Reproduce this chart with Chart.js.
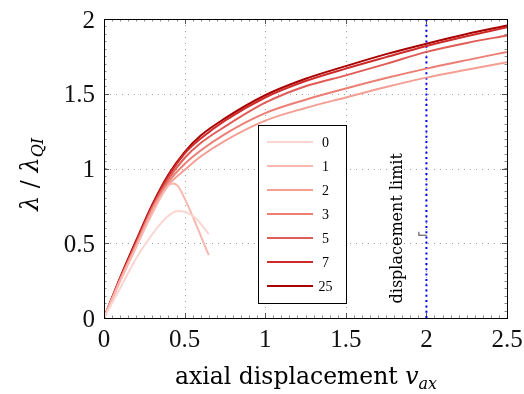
<!DOCTYPE html>
<html>
<head>
<meta charset="utf-8">
<script src="https://cdn.jsdelivr.net/npm/chart.js@4"></script>
<style>
  html, body { margin: 0; padding: 0; background: #fff; }
  #wrap { width: 524px; height: 394px; }
</style>
</head>
<body>
<div id="wrap"><canvas id="c" width="524" height="394"></canvas></div>
<script>
// legend names, one per curve
var names = ['0', '1', '2', '3', '5', '7', '25'];
var colors = ['rgb(251,214,208)', 'rgb(248,184,176)', 'rgb(244,158,148)', 'rgb(236,126,116)',
              'rgb(224,92,86)', 'rgb(206,42,42)', 'rgb(168,0,0)'];

// x values of the two short curves and of the long ones
var x_s0 = [0, 0.1, 0.2, 0.26, 0.35, 0.42, 0.46, 0.5, 0.56, 0.6, 0.65];
var x_s1 = [0, 0.1, 0.2, 0.3, 0.4, 0.43, 0.46, 0.5, 0.55, 0.6, 0.65];
var x_long = [0, 0.1, 0.2, 0.3, 0.4, 0.5, 0.6, 0.75, 1, 1.25, 1.5, 1.75, 2, 2.25, 2.5];

// lambda / lambda_QI
var y_0  = [0, 0.2, 0.4, 0.5, 0.63, 0.70, 0.715, 0.71, 0.675, 0.63, 0.56];
var y_1  = [0, 0.245, 0.475, 0.70, 0.885, 0.90, 0.88, 0.80, 0.68, 0.55, 0.42];
var y_2  = [0, 0.25, 0.48, 0.72, 0.89, 0.99, 1.08, 1.185, 1.32, 1.405, 1.475, 1.545, 1.608, 1.66, 1.71];
var y_3  = [0, 0.255, 0.49, 0.73, 0.91, 1.03, 1.12, 1.23, 1.37, 1.46, 1.535, 1.605, 1.668, 1.725, 1.78];
var y_5  = [0, 0.26, 0.50, 0.74, 0.93, 1.07, 1.17, 1.28, 1.44, 1.55, 1.623, 1.70, 1.78, 1.84, 1.89];
var y_7  = [0, 0.265, 0.51, 0.75, 0.95, 1.10, 1.20, 1.32, 1.475, 1.585, 1.668, 1.745, 1.82, 1.885, 1.945];
var y_25 = [0, 0.27, 0.52, 0.76, 0.96, 1.11, 1.22, 1.335, 1.49, 1.60, 1.685, 1.765, 1.835, 1.90, 1.957];

var xTicks = [0, 0.5, 1, 1.5, 2, 2.5];
var yTicks = [0, 0.5, 1, 1.5, 2];
var limitX = 2;
var limitLabel = 'displacement limit';

var xs = [x_s0, x_s1, x_long, x_long, x_long, x_long, x_long];
var ys = [y_0, y_1, y_2, y_3, y_5, y_7, y_25];

function pts(a, b) {
  return a.map(function (v, i) { return { x: v, y: b[i] }; });
}

var datasets = names.map(function (n, i) {
  return {
    label: n,
    data: pts(xs[i], ys[i]),
    borderColor: colors[i],
    borderWidth: 2,
    pointRadius: 0,
    cubicInterpolationMode: 'monotone',
    fill: false
  };
});
// dotted limit line
datasets.push({
  label: 'limit',
  data: [{ x: limitX, y: yTicks[0] }, { x: limitX, y: yTicks[yTicks.length - 1] }],
  borderColor: 'rgb(0,0,255)',
  borderWidth: 2,
  borderDash: [2, 3.3],
  pointRadius: 0,
  fill: false
});

var serif = "'Liberation Serif', serif";
var wordFont = "'DejaVu Serif', serif";

function seg(ctx, x1, y1, x2, y2) {
  ctx.beginPath(); ctx.moveTo(x1, y1); ctx.lineTo(x2, y2); ctx.stroke();
}

var decor = {
  id: 'decor',
  beforeDatasetsDraw: function (chart) {
    var ctx = chart.ctx, a = chart.chartArea, x = chart.scales.x, y = chart.scales.y;
    ctx.save();
    // dotted grid
    ctx.strokeStyle = '#a0a0a0';
    ctx.lineWidth = 1;
    ctx.setLineDash([1, 5]);
    xTicks.slice(1, -1).forEach(function (v) {
      var p = Math.round(x.getPixelForValue(v)) + 0.5;
      seg(ctx, p, a.top, p, a.bottom);
    });
    yTicks.slice(1, -1).forEach(function (v) {
      var p = Math.round(y.getPixelForValue(v)) + 0.5;
      seg(ctx, a.left, p, a.right, p);
    });
    ctx.setLineDash([]);
    // minor ticks
    ctx.strokeStyle = '#8a8a8a';
    for (var v = 0; v <= 2.5001; v += 0.05) {
      var p = Math.round(x.getPixelForValue(v)) + 0.5;
      seg(ctx, p, a.bottom, p, a.bottom - 2.5);
      seg(ctx, p, a.top, p, a.top + 2.5);
    }
    for (var w = 0; w <= 2.0001; w += 0.05) {
      var q = Math.round(y.getPixelForValue(w)) + 0.5;
      seg(ctx, a.left, q, a.left + 2.5, q);
      seg(ctx, a.right, q, a.right - 2.5, q);
    }
    // major ticks
    ctx.strokeStyle = '#555';
    xTicks.forEach(function (v) {
      var p = Math.round(x.getPixelForValue(v)) + 0.5;
      seg(ctx, p, a.bottom, p, a.bottom - 5);
      seg(ctx, p, a.top, p, a.top + 5);
    });
    yTicks.forEach(function (v) {
      var p = Math.round(y.getPixelForValue(v)) + 0.5;
      seg(ctx, a.left, p, a.left + 5, p);
      seg(ctx, a.right, p, a.right - 5, p);
    });
    ctx.restore();
  },
  afterDraw: function (chart) {
    var ctx = chart.ctx, a = chart.chartArea, x = chart.scales.x, y = chart.scales.y;
    ctx.save();
    // frame
    ctx.strokeStyle = '#000';
    ctx.lineWidth = 1;
    ctx.strokeRect(Math.round(a.left) + 0.5, Math.round(a.top) + 0.5,
                   Math.round(a.right - a.left), Math.round(a.bottom - a.top));

    // tick labels
    ctx.fillStyle = '#111';
    ctx.font = '25px ' + serif;
    ctx.textBaseline = 'alphabetic';
    ctx.textAlign = 'center';
    xTicks.forEach(function (v) {
      ctx.fillText(String(v), x.getPixelForValue(v), a.bottom + 29);
    });
    ctx.textAlign = 'right';
    yTicks.forEach(function (v) {
      ctx.fillText(String(v), a.left - 9, y.getPixelForValue(v) + 8.5);
    });

    // annotation near the limit line
    var lx = x.getPixelForValue(limitX);
    var ly = y.getPixelForValue(0.557);
    ctx.strokeStyle = '#444';
    seg(ctx, lx - 8, ly + 0.5, lx, ly + 0.5);
    seg(ctx, lx - 7.5, ly - 3, lx - 7.5, ly + 0.5);
    ctx.fillStyle = '#000';
    ctx.font = '16px ' + wordFont;
    ctx.translate(lx - 24, y.getPixelForValue(0.6));
    ctx.rotate(-Math.PI / 2);
    ctx.textAlign = 'center';
    ctx.textBaseline = 'alphabetic';
    ctx.fillText(limitLabel, 0, 0);
    ctx.setTransform(1, 0, 0, 1, 0, 0);

    // legend box
    var bx = 258.5, by = 125.5, bw = 88, bh = 178;
    ctx.fillStyle = '#fff';
    ctx.fillRect(bx, by, bw, bh);
    ctx.strokeStyle = '#000';
    ctx.strokeRect(bx, by, bw, bh);
    ctx.font = '14px ' + serif;
    ctx.textAlign = 'center';
    ctx.textBaseline = 'middle';
    names.forEach(function (n, i) {
      var yy = 142 + i * 24;
      ctx.strokeStyle = colors[i];
      ctx.lineWidth = 2;
      seg(ctx, 267, yy, 313, yy);
      ctx.fillStyle = '#000';
      ctx.fillText(n, 325.5, yy + 1);
    });

    // x axis title
    ctx.fillStyle = '#000';
    ctx.textAlign = 'left';
    ctx.textBaseline = 'alphabetic';
    var t1 = 'axial displacement ';
    ctx.font = '23.5px ' + wordFont;
    var w1 = ctx.measureText(t1).width;
    ctx.font = 'italic 23.5px ' + wordFont;
    var w2 = ctx.measureText('v').width;
    var sx = 175;
    var base = 384;
    ctx.font = '23.5px ' + wordFont;
    ctx.fillText(t1, sx, base);
    ctx.font = 'italic 23.5px ' + wordFont;
    ctx.fillText('v', sx + w1, base);
    ctx.font = 'italic 16px ' + wordFont;
    ctx.fillText('ax', sx + w1 + w2, base + 5);

    // y axis title
    ctx.translate(38, (a.top + a.bottom) / 2 + 6);
    ctx.rotate(-Math.PI / 2);
    ctx.font = 'italic 24px ' + wordFont;
    var p1 = 'λ';
    var wa = ctx.measureText(p1).width;
    ctx.font = '24px ' + wordFont;
    var p2 = ' / ';
    var wb = ctx.measureText(p2).width;
    ctx.font = 'italic 16px ' + wordFont;
    var wc = ctx.measureText('QI').width;
    var tot = wa * 2 + wb + wc;
    var s0 = -tot / 2;
    ctx.font = 'italic 24px ' + wordFont;
    ctx.fillText(p1, s0, 0);
    ctx.font = '24px ' + wordFont;
    ctx.fillText(p2, s0 + wa, 0);
    ctx.font = 'italic 24px ' + wordFont;
    ctx.fillText(p1, s0 + wa + wb, 0);
    ctx.font = 'italic 16px ' + wordFont;
    ctx.fillText('QI', s0 + 2 * wa + wb, 5);
    ctx.restore();
  }
};

var config = {
  type: 'line',
  data: { datasets: datasets },
  options: {
    responsive: false,
    animation: false,
    layout: { padding: { top: 19, right: 17, left: 0, bottom: 0 } },
    plugins: { legend: { display: false }, tooltip: { enabled: false } },
    scales: {
      x: {
        type: 'linear',
        min: 0, max: 2.5,
        afterBuildTicks: function (s) { s.ticks = xTicks.map(function (v) { return { value: v }; }); },
        afterFit: function (s) { s.height = 76; },
        grid: { display: false, drawTicks: false },
        border: { display: false },
        ticks: { display: false }
      },
      y: {
        type: 'linear',
        min: 0, max: 2,
        afterBuildTicks: function (s) { s.ticks = yTicks.map(function (v) { return { value: v }; }); },
        afterFit: function (s) { s.width = 104; },
        grid: { display: false, drawTicks: false },
        border: { display: false },
        ticks: { display: false }
      }
    }
  },
  plugins: [decor]
};

var chart = new Chart(document.getElementById('c'), config);
</script>
</body>
</html>
